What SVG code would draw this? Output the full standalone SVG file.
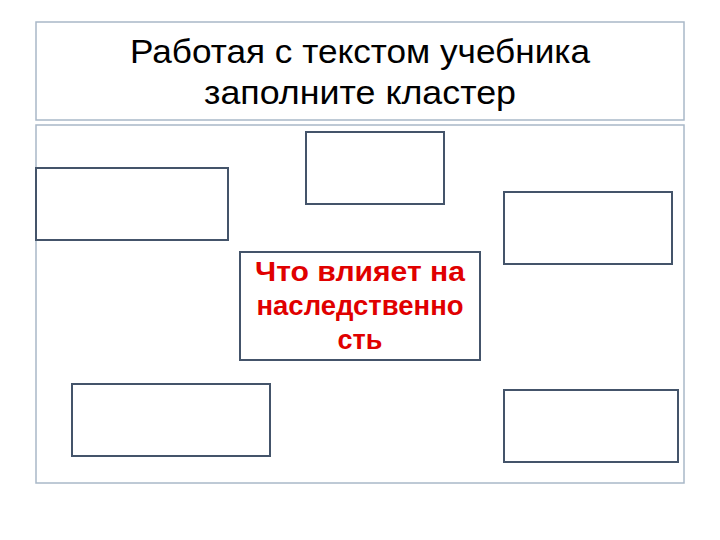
<svg xmlns="http://www.w3.org/2000/svg" width="720" height="540" viewBox="0 0 720 540">
<style>
.frame{fill:#fff;stroke:#a9b8c8;stroke-width:1.5}
.box{fill:#fff;stroke:#44546a;stroke-width:2}
.title{font-family:"Liberation Sans",Arial,sans-serif;font-size:34px;fill:#000;text-anchor:middle}
.center{font-family:"Liberation Sans",Arial,sans-serif;font-size:27px;font-weight:bold;fill:#e00000;text-anchor:middle}
</style>
<rect width="720" height="540" fill="#fff"/>
<g id="title">
<rect class="frame" x="36" y="22" width="648" height="98"/>
<text class="title" x="360" y="63" textLength="460" lengthAdjust="spacingAndGlyphs">Работая с текстом учебника</text>
<text class="title" x="360" y="104" textLength="312" lengthAdjust="spacingAndGlyphs">заполните кластер</text>
</g>
<g id="content">
<rect class="frame" x="36" y="125" width="648" height="358"/>
</g>
<g id="connectors"></g>
<g id="node-left"><rect class="box" x="36" y="168" width="192" height="72"/></g>
<g id="node-top"><rect class="box" x="306" y="132" width="138" height="72"/></g>
<g id="node-right"><rect class="box" x="504" y="192" width="168" height="72"/></g>
<g id="node-center">
<rect class="box" x="240" y="252" width="240" height="108"/>
<text class="center" x="360" y="281" textLength="210" lengthAdjust="spacingAndGlyphs">Что влияет на</text>
<text class="center" x="360" y="315" textLength="207" lengthAdjust="spacingAndGlyphs">наследственно</text>
<text class="center" x="360" y="349">сть</text>
</g>
<g id="node-bottom-left"><rect class="box" x="72" y="384" width="198" height="72"/></g>
<g id="node-bottom-right"><rect class="box" x="504" y="390" width="174" height="72"/></g>
</svg>
